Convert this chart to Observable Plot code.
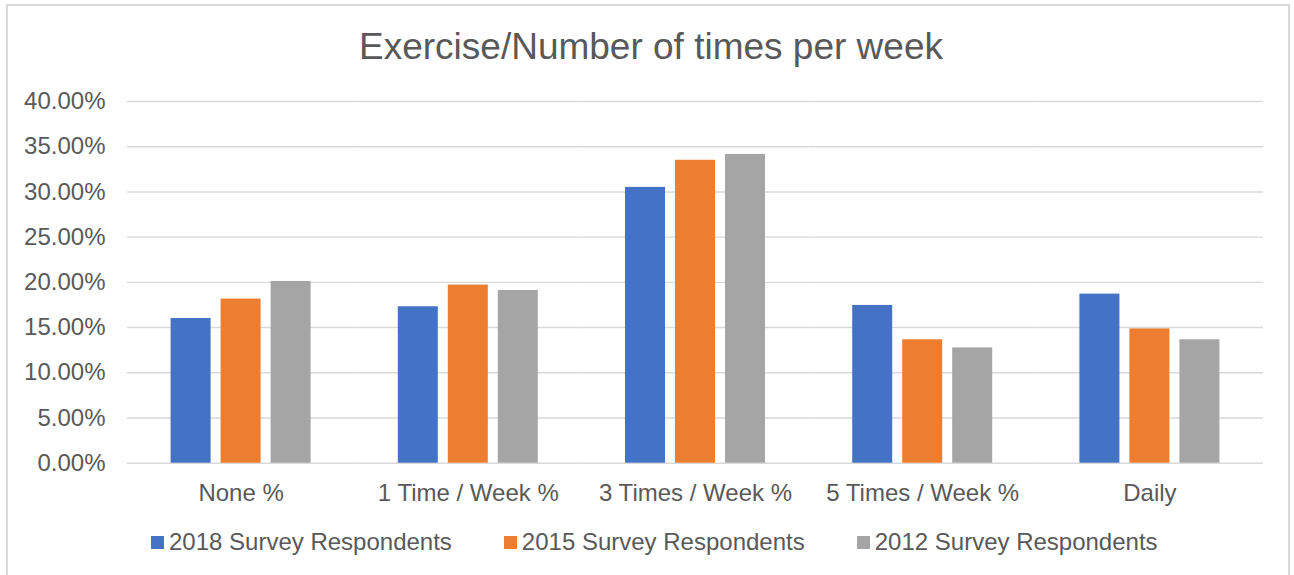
<!DOCTYPE html>
<html>
<head>
<meta charset="utf-8">
<script src="https://cdn.jsdelivr.net/npm/d3@7"></script>
<script src="https://cdn.jsdelivr.net/npm/@observablehq/plot@0.6"></script>
<style>
  html, body { margin: 0; padding: 0; background: #fff; }
  #chart { position: relative; width: 1294px; height: 575px; overflow: hidden; font-family: "Liberation Sans", Arial, sans-serif; color: #595959; }
  #border { position: absolute; left: 6px; top: 4px; width: 1284px; height: 620px; border: 2px solid #d9d9d9; box-sizing: border-box; pointer-events: none; }
  #title { height: 78px; box-sizing: border-box; padding-top: 28px; font-size: 37px; line-height: 37px; text-align: center; padding-left: 8px; }
  #plot svg { display: block; }
  #legend { display: flex; gap: 52px; padding-left: 151px; margin-top: 20px; font-size: 24px; line-height: 24px; }
  .item { display: flex; align-items: center; white-space: nowrap; }
  .sw { width: 13px; height: 13px; margin-right: 5px; }
</style>
</head>
<body>
<div id="chart">
  <div id="title">Exercise/Number of times per week</div>
  <div id="plot"></div>
  <div id="legend"></div>
  <div id="border"></div>
</div>
<script>
const categories = ["None %", "1 Time / Week %", "3 Times / Week %", "5 Times / Week %", "Daily"];
const series = ["2018 Survey Respondents", "2015 Survey Respondents", "2012 Survey Respondents"];
const colors = ["#4472c4", "#ed7d31", "#a5a5a5"];
const values2018 = [16.0, 17.3, 30.5, 17.45, 18.7];
const values2015 = [18.15, 19.7, 33.5, 13.65, 14.85];
const values2012 = [20.1, 19.1, 34.15, 12.75, 13.65];
const yTicks = [0, 5, 10, 15, 20, 25, 30, 35, 40];

const seriesValues = [values2018, values2015, values2012];
const data = [];
categories.forEach((c, i) => {
  series.forEach((s, j) => data.push({category: c, series: s, value: seriesValues[j][i]}));
});

const chart = Plot.plot({
  width: 1294,
  height: 432,
  marginTop: 23,
  marginBottom: 47.3,
  marginLeft: 127,
  marginRight: 31,
  style: {fontFamily: "'Liberation Sans', Arial, sans-serif", fontSize: "24px", color: "#595959", background: "transparent"},
  fx: {domain: categories, padding: 0, label: null, round: false},
  x: {domain: series, paddingInner: 0.2, paddingOuter: 0.872, axis: null, round: false},
  y: {domain: [0, 40], label: null},
  color: {domain: series, range: colors},
  marks: [
    Plot.gridY(yTicks, {stroke: "#d9d9d9", strokeOpacity: 1, strokeWidth: 1.4}),
    Plot.barY(data, {fx: "category", x: "series", y: "value", fill: "series"}),
    Plot.axisY(yTicks, {tickSize: 0, tickPadding: 22, tickFormat: d => d.toFixed(2) + "%", label: null, fontSize: 24}),
    Plot.axisFx({anchor: "bottom", tickSize: 0, tickPadding: 21, label: null, fontSize: 24})
  ]
});
document.getElementById("plot").appendChild(chart);

const legend = document.getElementById("legend");
series.forEach((s, j) => {
  const item = document.createElement("div");
  item.className = "item";
  const sw = document.createElement("span");
  sw.className = "sw";
  sw.style.background = colors[j];
  const t = document.createElement("span");
  t.textContent = s;
  item.appendChild(sw);
  item.appendChild(t);
  legend.appendChild(item);
});
</script>
</body>
</html>
